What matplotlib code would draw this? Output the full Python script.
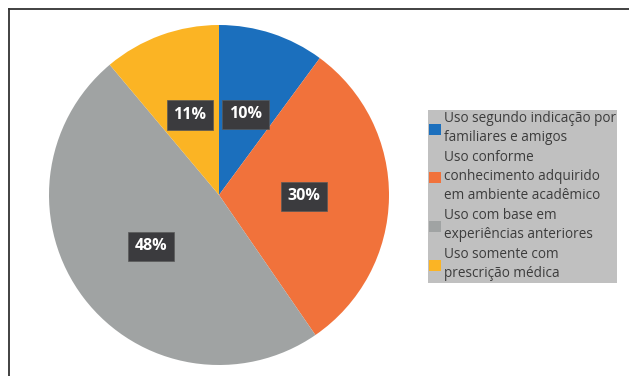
import matplotlib.pyplot as plt
from matplotlib.patches import Patch
from matplotlib.lines import Line2D
import numpy as np

categorias = ['Uso segundo indicação por\nfamiliares e amigos',
              'Uso conforme\nconhecimento adquirido\nem ambiente acadêmico',
              'Uso com base em\nexperiências anteriores',
              'Uso somente com\nprescrição médica']
valores = [10, 30, 48, 11]
cores = ['#1b6fbd', '#f1723b', '#a0a3a3', '#fbb424']

W, H = 629, 376
fig = plt.figure(figsize=(W/100, H/100), dpi=100)

# moldura: so a linha de cima e a da esquerda
fig.add_artist(Line2D([8.5/W, 8.5/W], [0, 1-8.5/H], color='#333333', lw=1.3, transform=fig.transFigure))
fig.add_artist(Line2D([8.5/W, 1], [1-8.5/H, 1-8.5/H], color='#333333', lw=1.3, transform=fig.transFigure))

cx, cy, r = 219, 195, 170
ax = fig.add_axes([(cx-r)/W, (H-cy-r)/H, 2*r/W, 2*r/H])
wedges, _ = ax.pie(valores, colors=cores, startangle=90, counterclock=False,
                   wedgeprops=dict(linewidth=0))
ax.set_aspect('auto')
ax.set_xlim(-1, 1)
ax.set_ylim(-1, 1)

for w, v in zip(wedges, valores):
    ang = np.deg2rad((w.theta1 + w.theta2) / 2)
    ax.text(0.5*np.cos(ang), 0.5*np.sin(ang), f'{v}%', ha='center', va='center',
            color='white', fontsize=11.5, fontweight='bold', family='Open Sans',
            bbox=dict(boxstyle='square,pad=0.42', fc='#3b3b3e', ec='#5a5a5a', lw=0.5))

handles = [Patch(facecolor=c, edgecolor='none') for c in cores]
leg = fig.legend(handles, categorias, loc='upper left',
                 bbox_to_anchor=(428/W, 1-110/H), frameon=True, fancybox=False,
                 prop={'family': 'Open Sans', 'size': 9.8}, labelcolor='#3c3c3c',
                 handlelength=0.85, handleheight=0.85, handletextpad=0.2,
                 labelspacing=0.37, borderpad=0.1, borderaxespad=0)
for t in leg.get_texts():
    t.set_linespacing(1.36)
leg.get_frame().set_facecolor('#c0c0c0')
leg.get_frame().set_edgecolor('none')
leg.get_frame().set_alpha(1)

fig.savefig('out.png', dpi=100)
